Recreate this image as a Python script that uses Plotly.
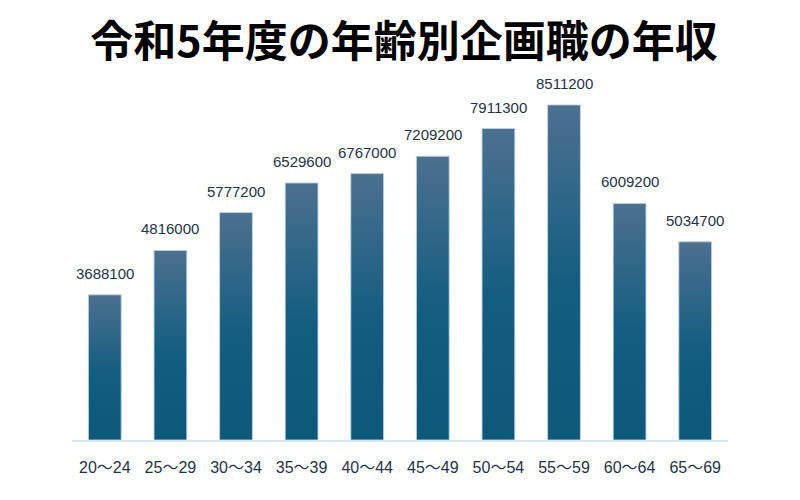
import plotly.graph_objects as go

title = "令和5年度の年齢別企画職の年収"
categories = ["20～24", "25～29", "30～34", "35～39", "40～44",
              "45～49", "50～54", "55～59", "60～64", "65～69"]
values = [3688100, 4816000, 5777200, 6529600, 6767000,
          7209200, 7911300, 8511200, 6009200, 5034700]

bar_half = 0.25
grad = [[0, "#0e587a"], [0.45, "#125d80"], [1, "#4c7090"]]
label_font = "Liberation Sans, Noto Sans CJK JP, sans-serif"

fig = go.Figure()
for i, v in enumerate(values):
    fig.add_trace(go.Scatter(
        x=[i - bar_half, i - bar_half, i + bar_half, i + bar_half, i - bar_half],
        y=[0, v, v, 0, 0],
        mode="lines",
        line=dict(color="rgba(190,210,225,0.9)", width=1),
        fill="toself",
        fillgradient=dict(type="vertical", colorscale=grad),
        hoverinfo="skip",
        showlegend=False,
    ))
    fig.add_annotation(
        x=i, y=v, text=str(v), showarrow=False,
        yanchor="bottom", yshift=11,
        font=dict(family=label_font, size=15, color="#1f3348"),
    )

fig.update_layout(
    width=792, height=492,
    paper_bgcolor="white", plot_bgcolor="white",
    margin=dict(l=64, r=72, t=58, b=60),
    title=dict(
        text="<b>" + title + "</b>",
        x=0.5, xanchor="center", y=1 - 34 / 492, yanchor="middle",
        font=dict(family="Noto Sans CJK JP", size=43, color="#000000"),
    ),
    xaxis=dict(
        range=[-0.5, 9.5],
        tickmode="array",
        tickvals=list(range(len(categories))),
        ticktext=categories,
        ticks="outside", ticklen=12, tickcolor="rgba(0,0,0,0)",
        tickfont=dict(family=label_font, size=16, color="#1f3348"),
        showgrid=False, zeroline=False,
        showline=True, linecolor="#d6e6f4", linewidth=2,
    ),
    yaxis=dict(
        range=[0, 9.5e6],
        visible=False, showgrid=False, zeroline=False,
    ),
)

fig.write_html("out.html")
